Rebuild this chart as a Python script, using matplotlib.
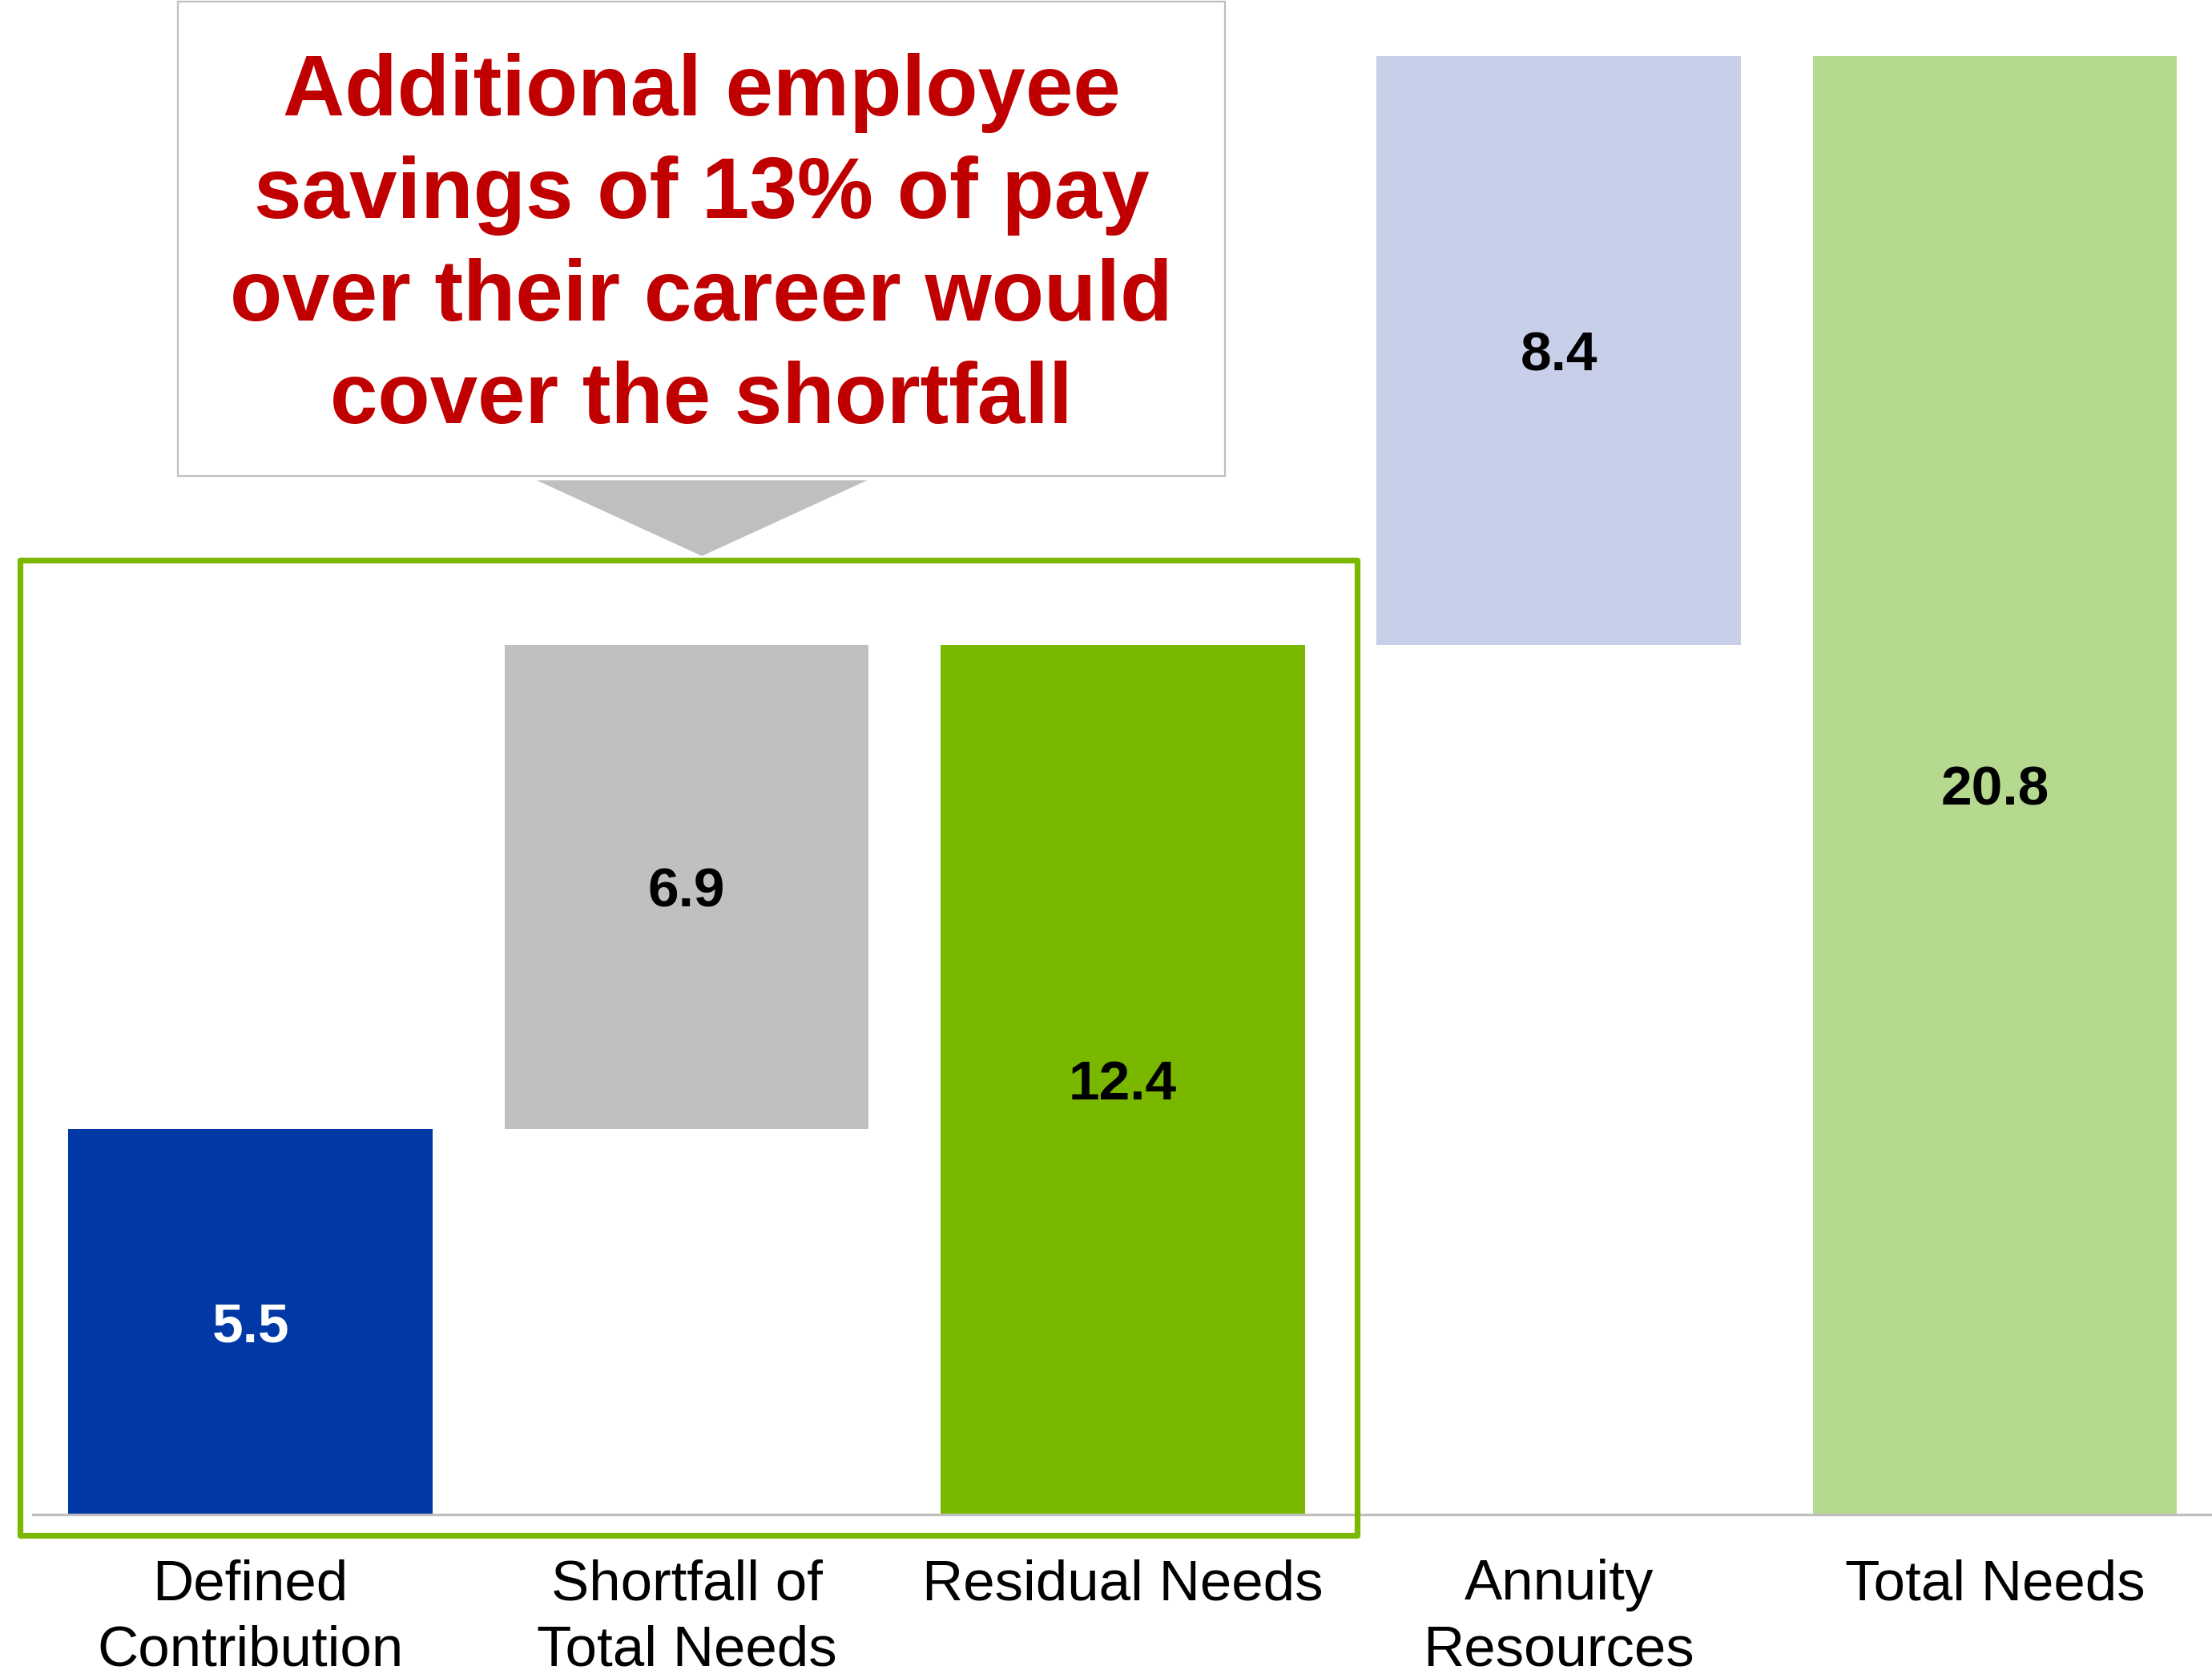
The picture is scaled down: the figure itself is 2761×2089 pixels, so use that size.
import matplotlib.pyplot as plt
from matplotlib.patches import Rectangle, Polygon

plt.rcParams['font.family'] = ['Liberation Sans', 'DejaVu Sans']

# retirement resources, multiples of final pay
categories = ["Defined\nContribution", "Shortfall of\nTotal Needs", "Residual Needs",
              "Annuity\nResources", "Total Needs"]
values = [5.5, 6.9, 12.4, 8.4, 20.8]
bottoms = [0, 5.5, 0, 12.4, 0]
colors = ["#0039A6", "#BFC0C2", "#7AB800", "#C7CFE9", "#B5D98F"]
label_colors = ["white", "black", "black", "black", "black"]
callout = "Additional employee\nsavings of 13% of pay\nover their career would\ncover the shortfall"

fig = plt.figure(figsize=(13.805, 10.445), dpi=200)
ax = fig.add_axes([0.0147, 0.0953, 0.9857, 0.9047])

x = range(len(categories))
bars = ax.bar(x, values, bottom=bottoms, width=0.835, color=colors)
for b, v, c in zip(bars, values, label_colors):
    ax.text(b.get_x() + b.get_width() / 2, b.get_y() + v / 2, f"{v:.1f}",
            ha="center", va="center_baseline", fontsize=25, fontweight="bold", color=c)

ax.set_xlim(-0.5, 4.5)
ax.set_ylim(0, 21.6)
ax.set_xticks(list(x))
ax.set_xticklabels(categories, fontsize=25.5, linespacing=1.31)
ax.tick_params(axis="x", length=0, pad=20)
ax.set_yticks([])
for s in ["left", "right", "top"]:
    ax.spines[s].set_visible(False)
ax.spines["bottom"].set_color("#BFBFBF")
ax.spines["bottom"].set_linewidth(1.2)

# green frame around the first three bars
ax.add_patch(Rectangle((-0.529, -0.30), 3.067, 13.91, fill=False,
                       edgecolor="#7AB800", linewidth=2.6, joinstyle="round",
                       clip_on=False, zorder=3))

# callout box with pointer
ax.add_patch(Rectangle((-0.166, 14.81), 2.40, 6.77, facecolor="white",
                       edgecolor="#BFBFBF", linewidth=0.8, clip_on=False, zorder=3))
ax.add_patch(Polygon([(0.656, 14.75), (1.414, 14.75), (1.035, 13.67)],
                     closed=True, facecolor="#BFBFBF", edgecolor="none",
                     clip_on=False, zorder=3))
ax.text(1.034, 18.08, callout, ha="center", va="center", fontsize=38.5,
        fontweight="bold", color="#C00000", linespacing=1.36, zorder=4)

fig.savefig("out.png", dpi=200, facecolor="white")
